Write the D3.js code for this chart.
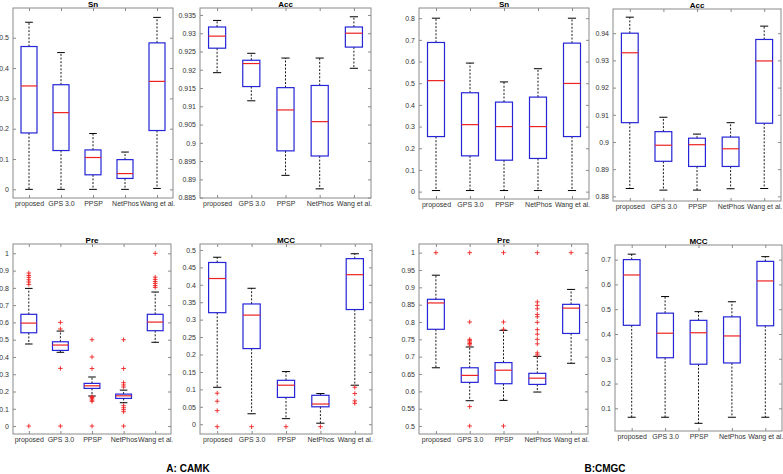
<!DOCTYPE html>
<html><head><meta charset="utf-8">
<script src="https://cdn.jsdelivr.net/npm/d3@7"></script>
<style>body{margin:0;background:#fff}svg{display:block}</style>
</head><body><svg id="c" width="783" height="474"></svg>
<script>
const methods = ["proposed","GPS 3.0","PPSP","NetPhos","Wang et al."];
// each row: [whisker low, q1, median, q3, whisker high]
const camkSn  = [[0,0.186,0.341,0.471,0.551],[0,0.128,0.253,0.345,0.451],[0,0.048,0.105,0.13,0.184],[0,0.036,0.052,0.098,0.123],[0.003,0.194,0.356,0.483,0.567]];
const camkAcc = [[0.9192,0.9259,0.9292,0.9317,0.9335],[0.9115,0.9154,0.9217,0.9226,0.9245],[0.8911,0.8978,0.909,0.9151,0.9232],[0.8874,0.8964,0.9058,0.9157,0.9232],[0.9204,0.9262,0.930,0.9317,0.9345]];
const cmgcSn  = [[0.005,0.254,0.512,0.688,0.8],[0.005,0.165,0.309,0.456,0.593],[0.005,0.145,0.3,0.413,0.506],[0.005,0.153,0.3,0.436,0.567],[0.005,0.254,0.499,0.685,0.8]];
const cmgcAcc = [[0.8829,0.9071,0.9328,0.94,0.9459],[0.8823,0.8929,0.8988,0.9038,0.9091],[0.8823,0.891,0.899,0.9014,0.9029],[0.8828,0.891,0.8975,0.9018,0.9071],[0.8829,0.9069,0.9298,0.9377,0.9426]];
const camkPre = [[0.475,0.54,0.596,0.647,0.797],[0.427,0.438,0.469,0.488,0.55],[0.174,0.218,0.233,0.247,0.284],[0.135,0.16,0.175,0.185,0.208],[0.485,0.552,0.602,0.647,0.776]];
const camkPreOut = [[0,0.82,0.834,0.847,0.861,0.872,0.886],[0,0.334,0.562,0.6],[0,0.143,0.15,0.158,0.165,0.17,0.333,0.4,0.5],[0,0.083,0.095,0.106,0.118,0.226,0.238,0.251,0.333,0.5],[0.803,0.813,0.826,0.837,0.849,0.862,1]];
const camkMcc = [[0.106,0.32,0.418,0.464,0.479],[0.03,0.217,0.313,0.345,0.39],[0.016,0.077,0.112,0.126,0.151],[0.003,0.05,0.058,0.083,0.088],[0.112,0.329,0.429,0.475,0.489]];
const camkMccOut = [[-0.007,0.039,0.066,0.089],[-0.007],[-0.007],[-0.007],[0.06,0.067,0.088,0.106]];
const cmgcPre = [[0.668,0.779,0.855,0.8655,0.935],[0.573,0.626,0.646,0.668,0.728],[0.574,0.622,0.661,0.683,0.776],[0.598,0.62,0.638,0.652,0.701],[0.681,0.767,0.84,0.851,0.894]];
const cmgcPreOut = [[1],[0.5,0.556,0.734,0.738,0.742,0.746,0.75,0.8,1],[0.5,0.779,0.8,1],[0.705,0.711,0.737,0.75,0.765,0.778,0.799,0.815,0.822,0.838,0.848,0.858,1],[1]];
const cmgcMcc = [[0.064,0.435,0.638,0.7,0.722],[0.064,0.304,0.403,0.484,0.551],[0.0395,0.278,0.405,0.455,0.49],[0.064,0.283,0.392,0.469,0.53],[0.064,0.433,0.614,0.693,0.712]];

const ticksSnA  = [0,0.1,0.2,0.3,0.4,0.5];
const ticksAccA = [0.885,0.89,0.895,0.9,0.905,0.91,0.915,0.92,0.925,0.93,0.935];
const ticksSnB  = [0,0.1,0.2,0.3,0.4,0.5,0.6,0.7,0.8];
const ticksAccB = [0.88,0.89,0.9,0.91,0.92,0.93,0.94];
const ticksPreA = [0,0.1,0.2,0.3,0.4,0.5,0.6,0.7,0.8,0.9,1];
const ticksMccA = [0,0.05,0.1,0.15,0.2,0.25,0.3,0.35,0.4,0.45,0.5];
const ticksPreB = [0.5,0.55,0.6,0.65,0.7,0.75,0.8,0.85,0.9,0.95,1];
const ticksMccB = [0.1,0.2,0.3,0.4,0.5,0.6,0.7];

const domSnA  = [-0.0285, 0.598];
const domAccA = [0.8849, 0.9369];
const domSnB  = [-0.034, 0.847];
const domAccB = [0.8783, 0.9489];
const domPreA = [-0.046, 1.054];
const domMccA = [-0.028, 0.517];
const domPreB = [0.477, 1.025];
const domMccB = [0.0085, 0.759];

const titles = ["Sn","Acc","Sn","Acc","Pre","MCC","Pre","MCC"];
const captions = ["A: CAMK","B:CMGC"];

const panels = [
  {t:titles[0], stats:camkSn,  out:null, ticks:ticksSnA,  dom:domSnA,  x0:13,  x1:173, y0:8,   y1:198},
  {t:titles[1], stats:camkAcc, out:null, ticks:ticksAccA, dom:domAccA, x0:200, x1:371, y0:8,   y1:198},
  {t:titles[2], stats:cmgcSn,  out:null, ticks:ticksSnB,  dom:domSnB,  x0:419, x1:589, y0:8,   y1:199},
  {t:titles[3], stats:cmgcAcc, out:null, ticks:ticksAccB, dom:domAccB, x0:613, x1:781, y0:9,   y1:201},
  {t:titles[4], stats:camkPre, out:camkPreOut, ticks:ticksPreA, dom:domPreA, x0:13,  x1:171, y0:244, y1:434},
  {t:titles[5], stats:camkMcc, out:camkMccOut, ticks:ticksMccA, dom:domMccA, x0:200, x1:372, y0:244, y1:434},
  {t:titles[6], stats:cmgcPre, out:cmgcPreOut, ticks:ticksPreB, dom:domPreB, x0:419, x1:588, y0:244, y1:434},
  {t:titles[7], stats:cmgcMcc, out:null, ticks:ticksMccB, dom:domMccB, x0:615, x1:782, y0:245, y1:431}
];

const svg = d3.select("#c");
const FONT = "Liberation Sans, Arial, sans-serif";
const fmt = d => String(+d.toFixed(3));
const BLUE = "#2424d8", RED = "#ee2222", FRAME = "#8a8a8a";

panels.forEach(p => {
  const g = svg.append("g");
  const x = d3.scalePoint(methods, [p.x0, p.x1]).padding(0.5);
  const y = d3.scaleLinear(p.dom, [p.y1, p.y0]);
  const step = x.step();

  const styleAxis = sel => {
    sel.selectAll(".domain").remove();
    sel.selectAll("line").attr("stroke", FRAME);
    sel.selectAll("text").attr("fill", "#333").style("font-family", FONT).style("font-size", "7px");
  };
  g.append("g").attr("transform", `translate(${p.x0},0)`)
    .call(d3.axisLeft(y).tickValues(p.ticks).tickFormat(fmt).tickSizeInner(-3).tickSizeOuter(0).tickPadding(4))
    .call(styleAxis);
  g.append("g").attr("transform", `translate(${p.x1},0)`)
    .call(d3.axisRight(y).tickValues(p.ticks).tickFormat("").tickSizeInner(-3).tickSizeOuter(0))
    .call(styleAxis);
  g.append("g").attr("transform", `translate(0,${p.y1})`)
    .call(d3.axisBottom(x).tickSizeInner(-3).tickSizeOuter(0).tickPadding(3.5))
    .call(styleAxis);
  g.append("g").attr("transform", `translate(0,${p.y0})`)
    .call(d3.axisTop(x).tickFormat("").tickSizeInner(-3).tickSizeOuter(0))
    .call(styleAxis);
  g.append("rect").attr("x", p.x0).attr("y", p.y0).attr("width", p.x1 - p.x0).attr("height", p.y1 - p.y0)
    .attr("fill", "none").attr("stroke", FRAME).attr("stroke-width", 1);

  g.append("text").attr("x", (p.x0 + p.x1) / 2).attr("y", p.y0 - 1.5)
    .attr("text-anchor", "middle").style("font-family", FONT).style("font-size", "8px")
    .style("font-weight", "bold").text(p.t);

  methods.forEach((m, i) => {
    const s = p.stats[i];
    const cx = x(m);
    const bw = step * 0.25, cw = step * 0.12;
    g.append("line").attr("x1", cx).attr("x2", cx).attr("y1", y(s[3])).attr("y2", y(s[4]))
      .attr("stroke", "#000").attr("stroke-dasharray", "2,1.6").attr("stroke-width", 0.9);
    g.append("line").attr("x1", cx).attr("x2", cx).attr("y1", y(s[1])).attr("y2", y(s[0]))
      .attr("stroke", "#000").attr("stroke-dasharray", "2,1.6").attr("stroke-width", 0.9);
    [s[0], s[4]].forEach(v => g.append("line").attr("x1", cx - cw).attr("x2", cx + cw)
      .attr("y1", y(v)).attr("y2", y(v)).attr("stroke", "#000").attr("stroke-width", 1));
    g.append("rect").attr("x", cx - bw).attr("y", y(s[3])).attr("width", 2 * bw)
      .attr("height", y(s[1]) - y(s[3])).attr("fill", "none").attr("stroke", BLUE).attr("stroke-width", 1.2);
    g.append("line").attr("x1", cx - bw).attr("x2", cx + bw).attr("y1", y(s[2])).attr("y2", y(s[2]))
      .attr("stroke", RED).attr("stroke-width", 1.2);
    if (p.out) {
      p.out[i].forEach(v => {
        const yy = y(v);
        g.append("path").attr("d", `M${cx - 2.3},${yy}H${cx + 2.3}M${cx},${yy - 2.3}V${yy + 2.3}`)
          .attr("stroke", RED).attr("stroke-width", 0.9).attr("fill", "none");
      });
    }
  });
});

svg.append("text").attr("x", 188).attr("y", 472).attr("text-anchor", "middle")
  .style("font-family", FONT).style("font-size", "10px").style("font-weight", "bold").text(captions[0]);
svg.append("text").attr("x", 605).attr("y", 472).attr("text-anchor", "middle")
  .style("font-family", FONT).style("font-size", "10px").style("font-weight", "bold").text(captions[1]);
</script></body></html>
